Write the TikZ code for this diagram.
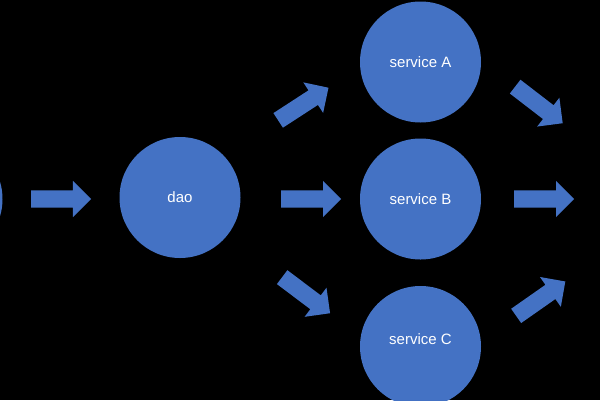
\documentclass[tikz,border=0pt]{standalone}
\usepackage{fontspec}
\setmainfont{Liberation Sans}
\usepackage{tikz}
\usetikzlibrary{shapes.arrows}
\definecolor{officeblue}{RGB}{68,114,196}
\tikzset{layer style/.style={
		circle,
		fill=officeblue,
		text=white,
		minimum size=121pt,
		inner sep=0pt,
		font=\fontsize{15}{18}\selectfont,
	},
	caption style/.style={
		text=white,
		font=\fontsize{15}{18}\selectfont,
	},
	flow style/.style={
		single arrow,
		fill=officeblue,
		minimum height=60pt,
		inner xsep=0pt,
		inner ysep=8.5pt,
		text height=0pt,
		text depth=0pt,
		single arrow head extend=9.5pt,
		anchor=tail,
		rotate=#1,
	},
	flow style/.default=0
}

\begin{document}
\begin{tikzpicture}[x=1pt,y=-1pt,node distance=240.5pt]
	\fill[black] (0,0) rectangle (600,400);
	\useasboundingbox (0,0) rectangle (600,400);
	\clip (0,0) rectangle (600,400);

	\node[layer style] (dao) at (180,197.5) {dao};

	\node[layer style, left of=dao,xshift=2.5pt,yshift=-1.5pt] (Caller) {};

	\node[layer style, right of=dao,yshift=135.5pt] (ServiceA) {service A};

	\node[layer style, right of=dao,yshift=-1.5pt] (ServiceB) {service B};

	\node[layer style, right of=dao,yshift=-149pt,
		label={[caption style,yshift=7.5pt]center:service C}] (ServiceC) {};

	% block arrows, placed by their tails
	\node[flow style] (ToDao) at (31,199) {};
	\node[flow style] (ToB) at (281,199) {};
	\node[flow style=33] (ToA) at (278,120.5) {};
	\node[flow style=-37] (ToC) at (282,277) {};
	\node[flow style=-37.6] (FromA) at (515,86.5) {};
	\node[flow style] (FromB) at (514,199) {};
	\node[flow style=35] (FromC) at (516,316) {};
\end{tikzpicture}
\end{document}
